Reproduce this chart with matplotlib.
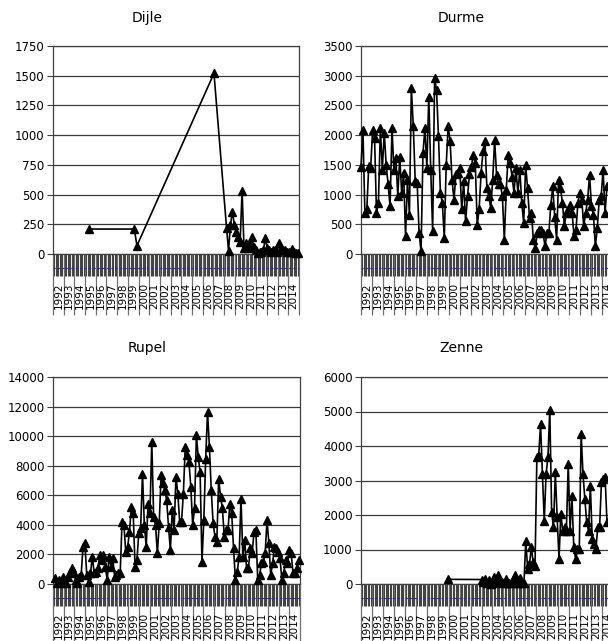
import numpy as np
import matplotlib.pyplot as plt

# years shown on the category axis
years = list(range(1992, 2015))

# Dijle: a few early samples, then dense series from 2008
dijle_early_x = [1995.35, 1999.6, 1999.85, 2007.05]
dijle_early = [210, 210, 70, 1520]
dijle_late = [216, 28, 245, 357, 245, 188, 146, 104, 534, 48, 90, 48, 84, 146,
              62, 34, 11, 20, 20, 34, 132, 48, 34, 20, 34, 34, 20, 96, 48, 34,
              34, 20, 20, 20, 39, 20, 11, 6]

durme = [1470, 2090, 690, 750, 1480, 1450, 2090, 1950, 690, 860, 2120, 1420,
         2040, 1500, 1170, 800, 2120, 1420, 1620, 970, 1640, 1030, 1360, 300,
         1250, 660, 2790, 2150, 1220, 1200, 350, 45, 1700, 2120, 1450, 2650,
         1420, 380, 2960, 2760, 1980, 1030, 860, 270, 1500, 2150, 1900, 1250,
         910, 1340, 1360, 1450, 750, 1220, 550, 970, 1340, 1470, 1670, 1530,
         490, 750, 1360, 1730, 1900, 1110, 970, 770, 1250, 1920, 1330, 1170,
         1170, 970, 240, 1080, 1670, 1530, 1300, 1030, 1450, 1030, 1420, 860,
         520, 1500, 1110, 610, 690, 240, 100, 350, 410, 410, 350, 130, 350, 350,
         830, 1140, 630, 240, 1250, 1110, 860, 470, 690, 720, 830, 690, 300,
         410, 860, 1030, 910, 470, 690, 910, 1330, 800, 660, 130, 440, 910, 970,
         1420, 690, 1140]

rupel = [380, 45, 270, 45, 500, 270, 45, 500, 830, 1060, 720, 270, 45, 500,
         610, 2520, 2750, 610, 160, 720, 1850, 720, 830, 1060, 1960, 1620, 1960,
         1170, 270, 1850, 1170, 1730, 500, 610, 720, 720, 4200, 3980, 2180,
         2520, 3530, 5220, 4770, 1170, 1620, 3420, 3760, 7470, 3980, 2520, 5440,
         4770, 9600, 4550, 3980, 2070, 4100, 7360, 6800, 6350, 5670, 3870, 2300,
         4990, 3650, 7250, 6120, 4210, 4210, 6120, 9270, 8710, 8260, 6570, 3980,
         5110, 10060, 8600, 7580, 1510, 4320, 8480, 11630, 9270, 6350, 4100,
         3200, 2860, 7130, 5900, 5110, 3200, 3650, 3650, 5440, 4770, 2410, 270,
         830, 1850, 5780, 1850, 2970, 1060, 1060, 2410, 2070, 3530, 3650, 270,
         610, 1400, 1510, 2070, 4320, 2750, 610, 1400, 2520, 2410, 2180, 1730,
         270, 720, 1620, 1400, 2300, 2070, 720, 720, 1060, 1620]

zenne_first_x = 1999.9
zenne_first = 135
zenne = [130, 60, 150, 20, 110, 0, 120, 200, 20, 250, 60, 60, 20, 150, 20, 20,
         20, 110, 270, 20, 20, 160, 20, 20,
         1260, 435, 580, 1060, 630, 530, 3670, 3720, 4640, 3190, 1840, 3190,
         3670, 5050, 2080, 1640, 3240, 1930, 725, 2030, 1550, 1640, 1550, 3480,
         1550, 2560, 1060, 725, 1020, 1020, 4350, 3190, 2470, 1790, 1550, 2850,
         1310, 1160, 1020, 1640, 1640, 2950, 3050, 3100, 1790]

# category positions of the dense series (evenly spaced samples)
dijle_x = list(dijle_early_x) + list(np.linspace(2008.23, 2014.93, len(dijle_late)))
dijle_y = dijle_early + dijle_late
durme_x = np.linspace(1992.0, 2014.45, len(durme))
rupel_x = np.linspace(1992.2, 2014.87, len(rupel))
zenne_x = [zenne_first_x] + list(np.linspace(2003.0, 2014.45, len(zenne)))
zenne_y = [zenne_first] + zenne

plt.rcParams['font.family'] = ['DejaVu Sans']

fig = plt.figure(figsize=(6.08, 6.41), dpi=100)
W, H = 608.0, 641.0


def make_axes(left, right, top, bottom):
    return fig.add_axes([left / W, 1 - bottom / H, (right - left) / W, (bottom - top) / H])


def style_axis(ax, ymax, ystep):
    ax.set_xlim(1992, 2015)
    ax.set_ylim(0, ymax)
    ax.set_yticks(np.arange(0, ymax + 1, ystep))
    ax.tick_params(axis='y', length=4, width=0.8, color='#404040', labelsize=8.5, pad=2)
    ax.yaxis.grid(True, color='#3a3a3a', linewidth=0.9)
    ax.set_axisbelow(True)
    for s in ax.spines.values():
        s.set_color('#404040')
        s.set_linewidth(0.9)
    # year separators as major ticks, dense category ticks as minor ticks
    ax.set_xticks(years + [2015])
    ax.set_xticklabels([])
    ax.set_xticks(np.arange(1992, 2015, 1 / 8), minor=True)
    ax.tick_params(axis='x', which='major', direction='out', length=44, width=0.9, color='#707070')
    ax.tick_params(axis='x', which='minor', direction='out', length=16, width=0.8, color='#444444')
    ax.plot([1992, 2015], [-0.067, -0.067], transform=ax.get_xaxis_transform(),
            color='#303070', lw=0.8, ls=(0, (2, 2)), clip_on=False)
    for yr in years:
        ax.annotate(str(yr), xy=(yr + 0.5, 0), xycoords=('data', 'axes fraction'),
                    xytext=(0, -20.5), textcoords='offset points', rotation=90,
                    ha='center', va='top', fontsize=7.5)


def draw(ax, x, y):
    ax.plot(x, y, color='black', lw=1.2, marker='^', markersize=6, clip_on=False, zorder=3)


ax1 = make_axes(53, 299, 46, 254)
style_axis(ax1, 1750, 250)
draw(ax1, dijle_x, dijle_y)

ax2 = make_axes(361, 613, 46, 254)
style_axis(ax2, 3500, 500)
draw(ax2, durme_x, durme)

ax3 = make_axes(53, 300, 377, 584)
style_axis(ax3, 14000, 2000)
draw(ax3, rupel_x, rupel)

ax4 = make_axes(361, 613, 377, 584)
style_axis(ax4, 6000, 1000)
draw(ax4, zenne_x, zenne_y)

for name, cx, cy in [('Dijle', 147, 18), ('Durme', 461, 18), ('Rupel', 147, 348), ('Zenne', 461, 348)]:
    fig.text(cx / W, 1 - cy / H, name, ha='center', va='center', fontsize=10)

fig.savefig('out.png', dpi=100)
